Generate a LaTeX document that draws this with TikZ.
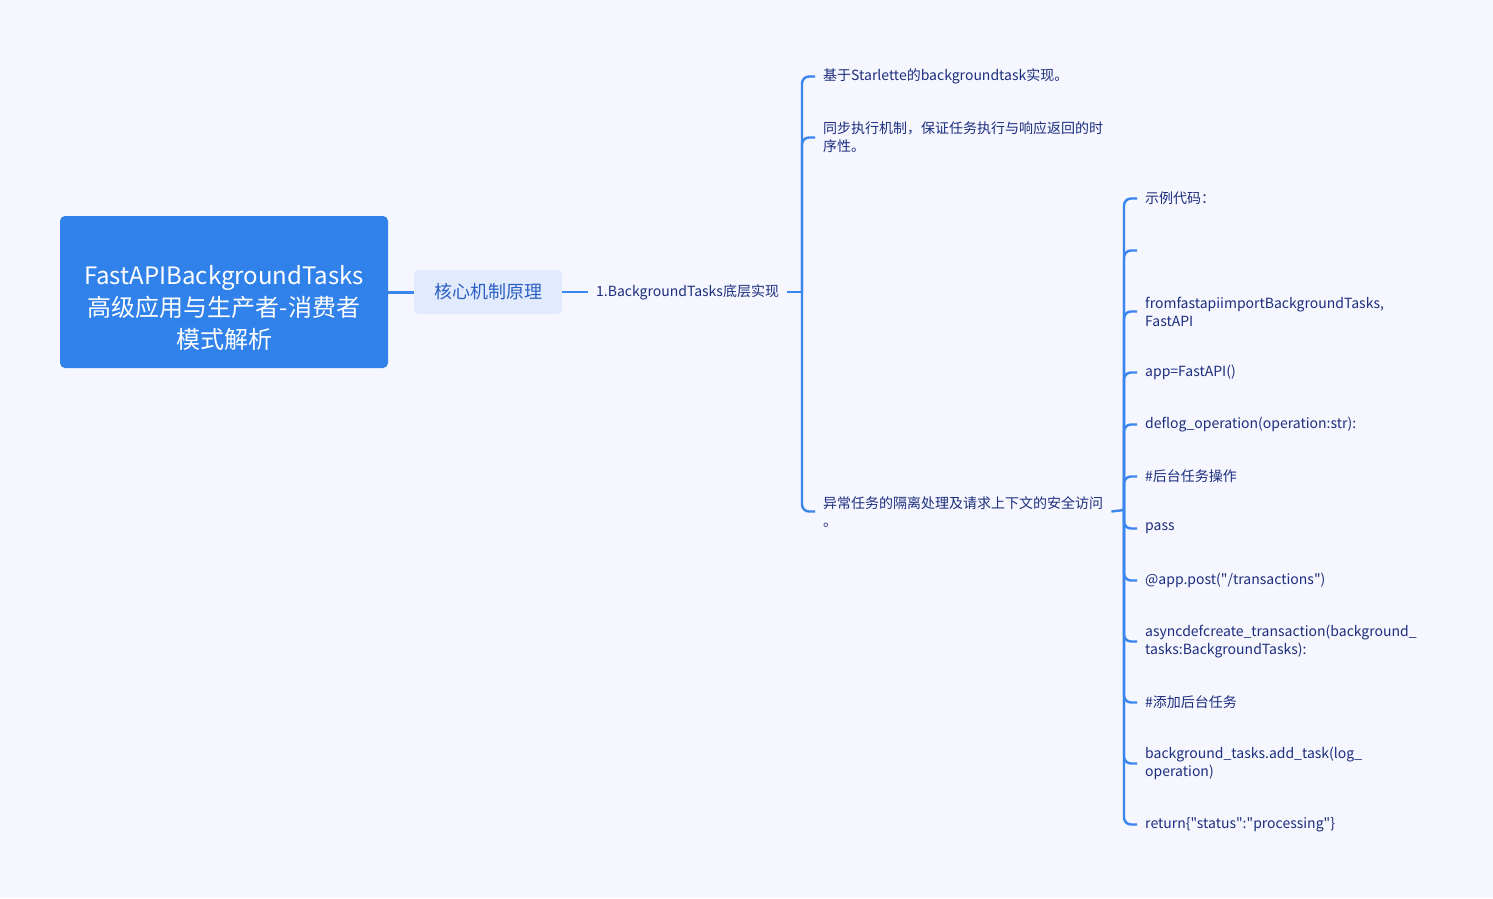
\documentclass[tikz,border=0pt]{standalone}
\usepackage{fontspec}
\setmainfont{Noto Sans CJK SC}[Ligatures=TeXOff]
\usepackage{xcolor}
\usetikzlibrary{positioning}
\definecolor{bgcol}{HTML}{F5F6FE}
\definecolor{rootblue}{HTML}{3181EA}
\definecolor{subfill}{HTML}{E2EAFD}
\definecolor{subtext}{HTML}{2A5FC4}
\definecolor{leaftext}{HTML}{1C2E7E}
\definecolor{linkblue}{HTML}{3A85EE}

\begin{document}
\begin{tikzpicture}[x=1pt,y=-1pt,
    leaf/.style={anchor=west,inner sep=8pt,align=left,text=leaftext,
      font=\fontsize{14}{18}\selectfont,yshift=-1.5pt},
    link/.style={draw=linkblue,line width=2.4pt,rounded corners=7pt}]
  \fill[bgcol] (0,0) rectangle (1493,898);

  % root and first level
  \node[fill=rootblue,rounded corners=5pt,
    minimum width=328pt,minimum height=152pt,inner sep=0pt] (root) at (224,292) {};
  \node[text=white,align=center,inner sep=0pt,
    font=\fontsize{24}{32}\selectfont] (roottext) at (224,308)
    {FastAPIBackgroundTasks\\高级应用与生产者-消费者\\模式解析};
  \node[fill=subfill,rounded corners=5pt,text=subtext,
    minimum width=148pt,minimum height=44pt,inner sep=0pt,
    font=\fontsize{18}{22}\selectfont] (core) at (488,292) {核心机制原理};
  \node[leaf,yshift=1.5pt] (impl) at (588,292) {1.BackgroundTasks底层实现};

  % second level
  \coordinate (fa) at (802,292);
  \node[leaf] (star) at (815,75) {基于Starlette的backgroundtask实现。};
  \node[leaf] (sync) at (815,136) {同步执行机制，保证任务执行与响应返回的时\\序性。};
  \node[leaf] (iso) at (815,510) {异常任务的隔离处理及请求上下文的安全访问\\。};

  % code lines
  \coordinate (fb) at (1124,510);
  \node[leaf] (c1) at (1137,197) {示例代码：};
  \node[leaf] (c2) at (1137,249) {};
  \node[leaf] (c3) at (1137,310) {fromfastapiimportBackgroundTasks,\\FastAPI};
  \node[leaf] (c4) at (1137,371) {app=FastAPI()};
  \node[leaf] (c5) at (1137,423) {deflog\_operation(operation:str):};
  \node[leaf] (c6) at (1137,475) {\#后台任务操作};
  \node[leaf] (c7) at (1137,527) {pass};
  \node[leaf] (c8) at (1137,579) {@app.post("/transactions")};
  \node[leaf] (c9) at (1137,640) {asyncdefcreate\_transaction(background\_\\tasks:BackgroundTasks):};
  \node[leaf] (c10) at (1137,701) {\#添加后台任务};
  \node[leaf] (c11) at (1137,762) {background\_tasks.add\_task(log\_\\operation)};
  \node[leaf] (c12) at (1137,823) {return\{"status":"processing"\}};

  \draw[link,line width=3pt] (root.east) -- (core.west);
  \draw[link] (core.east) -- (impl.west);
  \draw[link] (impl.east) -- (fa);
  \foreach \n in {star,sync,iso}
    \draw[link] (fa) |- (\n.west);
  \draw[link] (iso.east) -- (fb);
  \foreach \n in {c1,c2,c3,c4,c5,c6,c7,c8,c9,c10,c11,c12}
    \draw[link] (fb) |- (\n.west);
\end{tikzpicture}
\end{document}
